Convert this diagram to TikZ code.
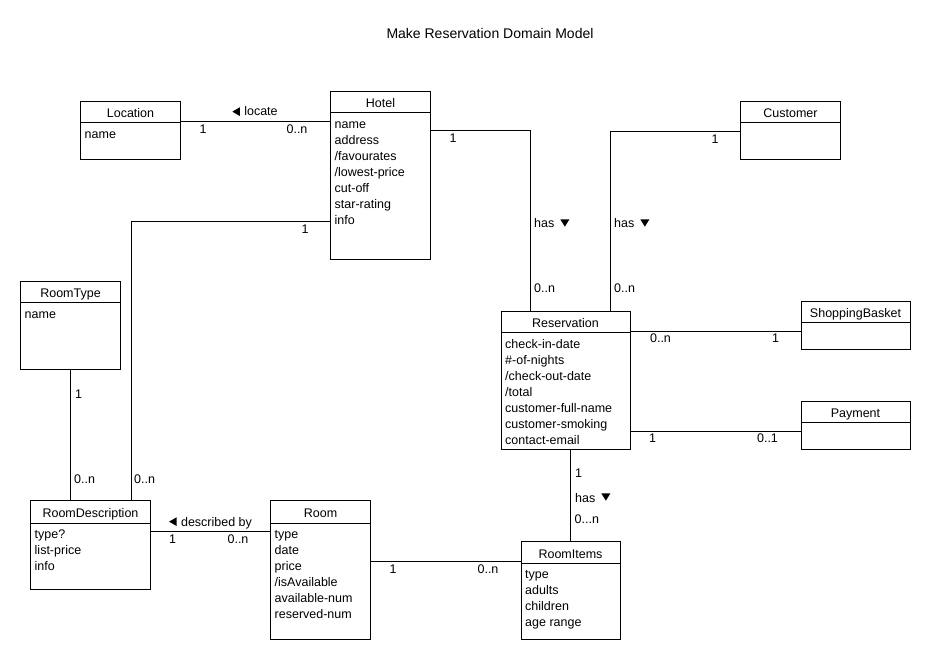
\documentclass[tikz,border=0pt]{standalone}
\usepackage{fontspec}
\setmainfont{Liberation Sans}

\tikzset{
  classbox/.style={draw, line width=1pt, inner sep=0pt, anchor=north west},
  classname/.style={font=\fontsize{12.5}{16}\selectfont, inner sep=0pt, anchor=base},
  attrs/.style={font=\fontsize{12.5}{16}\selectfont, inner sep=0pt, align=left, anchor=north west},
  lbl/.style={font=\fontsize{12.5}{16}\selectfont, inner sep=0pt, anchor=base},
  lblw/.style={lbl, anchor=base west},
  assoc/.style={line width=1pt}
}

% reading direction marks
\newcommand{\readleft}{\tikz[baseline=0pt]\fill (0pt,4.35pt) -- (7.5pt,8.7pt) -- (7.5pt,0pt) -- cycle;\hspace{4.5pt}}
\newcommand{\readdown}{\hspace{6pt}\tikz[baseline=0pt]\fill (0pt,8.6pt) -- (9pt,8.6pt) -- (4.5pt,1.3pt) -- cycle;}

% name, nw corner, width, height, header height, title, attributes
\newcommand{\umlclass}[7]{%
  \node[classbox, minimum width=#3, minimum height=#4] (#1) at (#2) {};
  \draw[assoc] ([yshift=-#5]#1.north west) -- ([yshift=-#5]#1.north east);
  \node[classname] at ([yshift=-#5+5]#1.north) {#6};
  \node[attrs] at ([xshift=4.5, yshift=-#5-4.3]#1.north west) {\strut#7};
}

\begin{document}
\begin{tikzpicture}[x=1pt, y=-1pt]
  \useasboundingbox (0,0) rectangle (930,660);
  \node[lbl, font=\fontsize{14}{17}\selectfont] (title) at (490,39) {Make Reservation Domain Model};

  \umlclass{location}{80,101}{100}{58}{22}{Location}{name}
  \umlclass{hotel}{330,91}{100}{168}{22}{Hotel}{name\\address\\/favourates\\/lowest-price\\cut-off\\star-rating\\info}
  \umlclass{customer}{740,101}{100}{58}{22}{Customer}{}
  \umlclass{roomtype}{20,281}{100}{88}{22}{RoomType}{name}
  \umlclass{reservation}{500.5,311}{129}{138}{22}{Reservation}{check-in-date\\\#-of-nights\\/check-out-date\\/total\\customer-full-name\\customer-smoking\\contact-email}
  \umlclass{basket}{800.5,301}{109}{48}{22}{ShoppingBasket}{}
  \umlclass{payment}{800.5,401}{109}{48}{22}{Payment}{}
  \umlclass{roomdesc}{30,500}{120}{89}{23}{RoomDescription}{type?\\list-price\\info}
  \umlclass{room}{270,500}{100}{139}{23}{Room}{type\\date\\price\\/isAvailable\\available-num\\reserved-num}
  \umlclass{roomitems}{520.5,541}{99}{98}{22}{RoomItems}{type\\adults\\children\\age range}

  % associations
  \draw[assoc] ([yshift=9]location.east) -- ([yshift=9]location.east -| hotel.west);
  \draw[assoc] ([yshift=45]hotel.east) -| ([xshift=-35]reservation.north);
  \draw[assoc] ([yshift=-1]customer.west) -| ([xshift=45]reservation.north);
  \draw[assoc] ([yshift=-46]hotel.west) -| ([xshift=41]roomdesc.north);
  \draw[assoc] (roomtype.south) -- (roomtype.south |- roomdesc.north);
  \draw[assoc] ([yshift=13.5]roomdesc.east) -- ([yshift=13.5]roomdesc.east -| room.west);
  \draw[assoc] ([yshift=8.5]room.east) -- ([yshift=8.5]room.east -| roomitems.west);
  \draw[assoc] ([yshift=49]reservation.east) -- ([yshift=49]reservation.east -| basket.west);
  \draw[assoc] ([yshift=-51]reservation.east) -- ([yshift=-51]reservation.east -| payment.west);
  \draw[assoc] (roomitems.north |- reservation.south) -- (roomitems.north);

  % role names and multiplicities
  \node[lbl] at (255,116) {\readleft locate};
  \node[lbl] at (203,134) {1};
  \node[lbl] at (297,134) {0..n};
  \node[lbl] at (453,143) {1};
  \node[lblw] at (534,228) {has\readdown};
  \node[lblw] at (534,293) {0..n};
  \node[lbl] at (715,144) {1};
  \node[lblw] at (614,228) {has\readdown};
  \node[lblw] at (614,293) {0..n};
  \node[lbl] at (305,234) {1};
  \node[lblw] at (134,484) {0..n};
  \node[lblw] at (75,399) {1};
  \node[lblw] at (74,484) {0..n};
  \node[lbl] at (210.5,526) {\readleft described by};
  \node[lbl] at (172.5,543) {1};
  \node[lbl] at (238,543) {0..n};
  \node[lbl] at (393,573) {1};
  \node[lbl] at (488,573) {0..n};
  \node[lbl] at (660.5,343) {0..n};
  \node[lbl] at (775.5,343) {1};
  \node[lbl] at (652.5,443) {1};
  \node[lbl] at (767.5,443) {0..1};
  \node[lblw] at (575,478) {1};
  \node[lblw] at (575,502) {has\readdown};
  \node[lblw] at (574.5,523) {0...n};
\end{tikzpicture}
\end{document}
